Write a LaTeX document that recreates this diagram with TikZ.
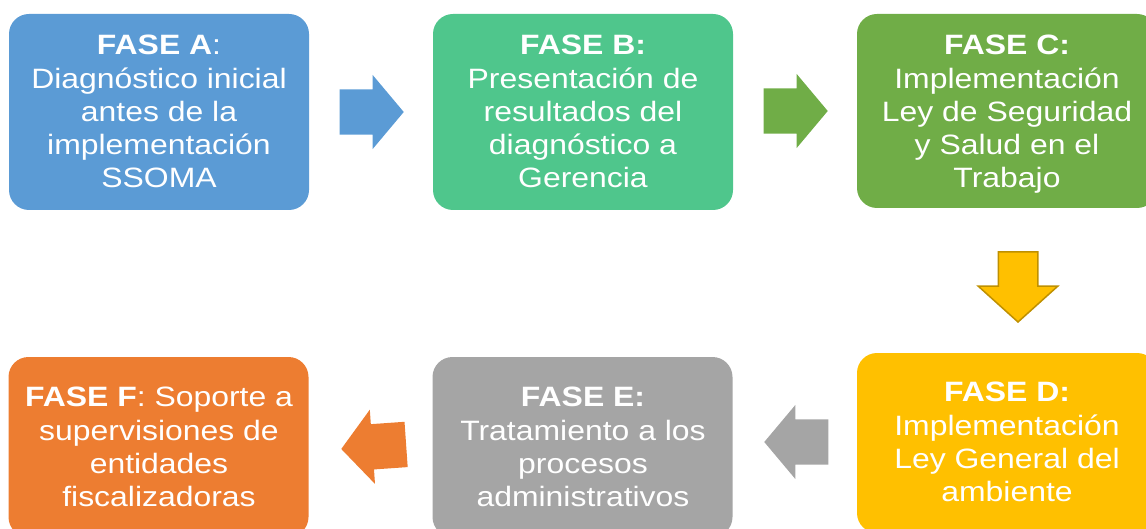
\documentclass[tikz,border=0pt]{standalone}
\usepackage{fontspec}
\setmainfont{Liberation Sans}[FakeStretch=1.14]
\usetikzlibrary{shapes.arrows}
\definecolor{cA}{HTML}{5B9BD5}
\definecolor{cB}{HTML}{4FC68C}
\definecolor{cC}{HTML}{70AD47}
\definecolor{cD}{HTML}{FFC000}
\definecolor{cDd}{HTML}{BF9000}
\definecolor{cE}{HTML}{A5A5A5}
\definecolor{cF}{HTML}{ED7D31}
\begin{document}
\begin{tikzpicture}[x=1pt,y=-1pt,
  phase/.style={rectangle, rounded corners=20pt, minimum width=300pt, minimum height=#1, inner sep=0pt, draw=none},
  ptext/.style={align=center, text=white, inner sep=0pt, anchor=north, font=\fontsize{28}{33.3}\selectfont},
  blockarrow/.style={single arrow, draw=none, inner xsep=0pt, inner ysep=22.5pt, minimum height=64pt,
    single arrow head extend=14.5pt, single arrow tip angle=100, single arrow head indent=0pt, anchor=tip}
]
\useasboundingbox (0,0) rectangle (1146,529);
\clip (0,0) rectangle (1146,529);
% boxes
\node[phase=196pt, fill=cA] (A) at (159,112) {};
\node[phase=196pt, fill=cB] (B) at (583,112) {};
\node[phase=194pt, fill=cC] (C) at (1007,111) {};
\node[phase=180pt, fill=cD] (D) at (1007,443) {};
\node[phase=180pt, fill=cE] (E) at (582.5,447) {};
\node[phase=180pt, fill=cF] (F) at (158.5,447) {};
% texts
\node[ptext] (tA) at (159,35) {\textbf{FASE A}:\\Diagnóstico inicial\\antes de la\\implementación\\SSOMA};
\node[ptext] (tB) at (583,35) {\textbf{FASE B:}\\Presentación de\\resultados del\\diagnóstico a\\Gerencia};
\node[ptext] (tC) at (1007,35) {\textbf{FASE C:}\\Implementación\\Ley de Seguridad\\y Salud en el\\Trabajo};
\node[ptext] (tD) at (1007,382) {\textbf{FASE D:}\\Implementación\\Ley General del\\ambiente};
\node[ptext] (tE) at (583,387) {\textbf{FASE E:}\\Tratamiento a los\\procesos\\administrativos};
\node[ptext] (tF) at (159,387) {\textbf{FASE F}: Soporte a\\supervisiones de\\entidades\\fiscalizadoras};
% arrows
\node[blockarrow, fill=cA] (arAB) at (404,112) {};
\node[blockarrow, fill=cC] (arBC) at (828,111) {};
\node[blockarrow, fill=cD, draw=cDd, line width=1.5pt, inner ysep=19pt, minimum height=70pt,
  single arrow head extend=20pt, single arrow tip angle=96, rotate=-90] (arCD) at (1018,323) {};
\node[blockarrow, fill=cE, rotate=180] (arDE) at (764,442) {};
\node[blockarrow, fill=cF, minimum height=65pt, rotate=184] (arEF) at (341,449) {};
\end{tikzpicture}
\end{document}
